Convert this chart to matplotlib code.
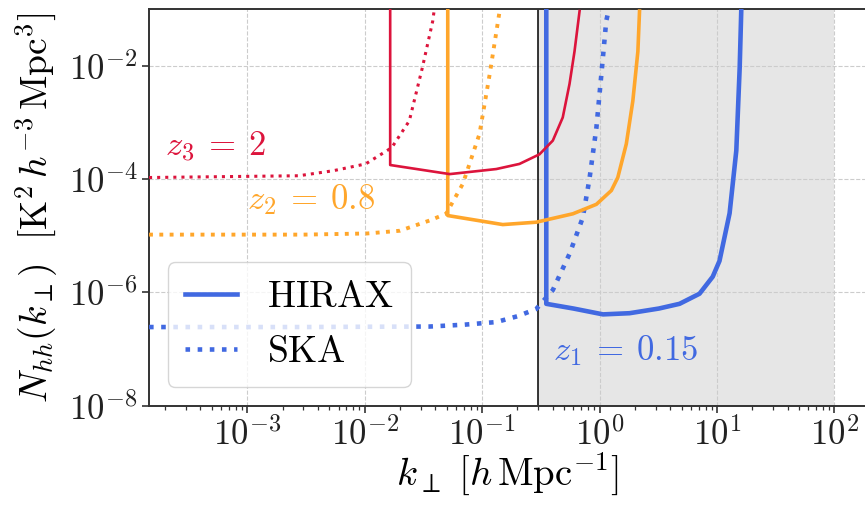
import numpy as np
import matplotlib
matplotlib.use('Agg')
import matplotlib.pyplot as plt
from matplotlib.ticker import FixedLocator, LogLocator, NullLocator, NullFormatter, FuncFormatter

plt.rcParams['mathtext.fontset'] = 'cm'
plt.rcParams['font.family'] = 'serif'
plt.rcParams['font.serif'] = ['DejaVu Serif']

# HIRAX noise curves, z1 = 0.15, z2 = 0.8, z3 = 2
k_hirax_z1 = [0.352, 0.352, 0.6, 1.07, 1.80, 3.2, 4.80, 7.1, 9.2, 10.5, 12.8, 14.6, 15.6, 16.1]
N_hirax_z1 = [1.0, 6.3e-7, 5.2e-7, 4.1e-7, 4.3e-7, 5.2e-7, 6.3e-7, 9.5e-7, 1.9e-6, 3.6e-6, 2.5e-5, 3.2e-4, 9.3e-3, 1.0e-1]

k_hirax_z2 = [0.051, 0.051, 0.15, 0.289, 0.593, 0.94, 1.26, 1.43, 1.69, 1.92, 2.12, 2.19]
N_hirax_z2 = [1.0, 2.28e-5, 1.58e-5, 1.74e-5, 2.45e-5, 3.6e-5, 6.3e-5, 1.07e-4, 4.2e-4, 2.4e-3, 1.8e-2, 9.3e-2]

k_hirax_z3 = [0.0165, 0.0165, 0.053, 0.132, 0.208, 0.308, 0.40, 0.486, 0.555, 0.612, 0.676]
N_hirax_z3 = [1.0, 1.78e-4, 1.23e-4, 1.51e-4, 1.86e-4, 2.75e-4, 4.8e-4, 1.23e-3, 4.8e-3, 1.8e-2, 9.3e-2]

# SKA noise curves
k_ska_z1 = [1.46e-4, 3e-3, 0.01, 0.0356, 0.071, 0.132, 0.2, 0.289, 0.40, 0.555, 0.72, 0.82, 0.94, 1.03, 1.14, 1.2]
N_ska_z1 = [2.45e-7, 2.45e-7, 2.48e-7, 2.5e-7, 2.7e-7, 3.0e-7, 3.8e-7, 5.1e-7, 1.1e-6, 4.8e-6, 2.1e-5, 1.0e-4, 8.1e-4, 6.2e-3, 6.2e-2, 1.0e-1]

k_ska_z2 = [1.46e-4, 3e-3, 0.0105, 0.020, 0.0356, 0.0494, 0.0686, 0.095, 0.116, 0.141]
N_ska_z2 = [1.05e-5, 1.05e-5, 1.1e-5, 1.23e-5, 1.86e-5, 2.45e-5, 8.3e-5, 6.3e-4, 7.1e-3, 9.3e-2]

k_ska_z3 = [1.46e-4, 2.75e-3, 5.4e-3, 0.0102, 0.017, 0.024, 0.031, 0.038, 0.039]
N_ska_z3 = [1.07e-4, 1.15e-4, 1.41e-4, 1.86e-4, 3.6e-4, 1.07e-3, 9.3e-3, 6.2e-2, 9.3e-2]

k_min_shade = 0.3
k_max_shade = 100.0

c1 = '#4169e1'
c2 = '#ffa62b'
c3 = '#dc143c'

fig = plt.figure(figsize=(8.65, 5.05), dpi=100)
ax = fig.add_axes([0.1723, 0.1966, 0.8277, 0.785])

ax.axvspan(k_min_shade, k_max_shade, color='#e6e6e6', zorder=0.3, lw=0)
ax.axvline(k_min_shade, color='black', lw=1.1, zorder=1.5)

ax.plot(k_hirax_z1, N_hirax_z1, color=c1, lw=3.3, label=r'$\mathrm{HIRAX}$', zorder=3)
ax.plot(k_ska_z1, N_ska_z1, color=c1, lw=3.3, ls=':', label=r'$\mathrm{SKA}$', zorder=3)
ax.plot(k_hirax_z2, N_hirax_z2, color=c2, lw=2.6, zorder=3)
ax.plot(k_ska_z2, N_ska_z2, color=c2, lw=2.8, ls=':', zorder=3)
ax.plot(k_hirax_z3, N_hirax_z3, color=c3, lw=1.9, zorder=3)
ax.plot(k_ska_z3, N_ska_z3, color=c3, lw=2.2, ls=':', zorder=3)

ax.text(2.0e-4, 2.6e-4, r'$z_3\:=\:2$', color=c3, fontsize=25, va='baseline')
ax.text(1.0e-3, 3.0e-5, r'$z_2\:=\:0.8$', color=c2, fontsize=25, va='baseline')
ax.text(0.40, 6.3e-8, r'$z_1\:=\:0.15$', color=c1, fontsize=25, va='baseline')

ax.set_xscale('log')
ax.set_yscale('log')
ax.set_xlim(1.46e-4, 182)
ax.set_ylim(1e-8, 1e-1)

ax.xaxis.set_major_locator(FixedLocator([1e-3, 1e-2, 1e-1, 1e0, 1e1, 1e2]))
ax.xaxis.set_minor_locator(LogLocator(base=10, subs=np.arange(2, 10), numticks=20))
ax.xaxis.set_minor_formatter(NullFormatter())
ax.yaxis.set_major_locator(FixedLocator([1e-8, 1e-6, 1e-4, 1e-2]))
ax.yaxis.set_minor_locator(NullLocator())
fmt = FuncFormatter(lambda v, pos: r'$10^{%d}$' % int(round(np.log10(v))))
ax.xaxis.set_major_formatter(fmt)
ax.yaxis.set_major_formatter(fmt)

ax.tick_params(which='major', labelsize=25, length=5, width=1.2, colors='#333333', labelcolor='#222222')
ax.tick_params(which='minor', length=3, width=0.9, colors='#333333')

ax.grid(True, which='major', ls='--', color='#cccccc', lw=0.8)
ax.set_axisbelow(True)

for s in ['left', 'bottom', 'top']:
    ax.spines[s].set_color('#333333')
    ax.spines[s].set_linewidth(1.4)
ax.spines['right'].set_visible(False)

ax.set_xlabel(r'$k_\perp\ [h\,\mathrm{Mpc}^{-1}]$', fontsize=28)
ax.set_ylabel(r'$N_{hh}(k_\perp)\ \ [\mathrm{K}^2\,h^{-3}\,\mathrm{Mpc}^3]$', fontsize=27)
ax.yaxis.set_label_coords(-0.124, 0.5)
ax.xaxis.set_label_coords(0.5, -0.115)

leg = ax.legend(loc='lower left', fontsize=27, handlelength=1.4, handletextpad=0.8,
                framealpha=0.8, borderpad=0.45)
leg.get_frame().set_edgecolor('#cccccc')

fig.savefig('out.png', dpi=100)
